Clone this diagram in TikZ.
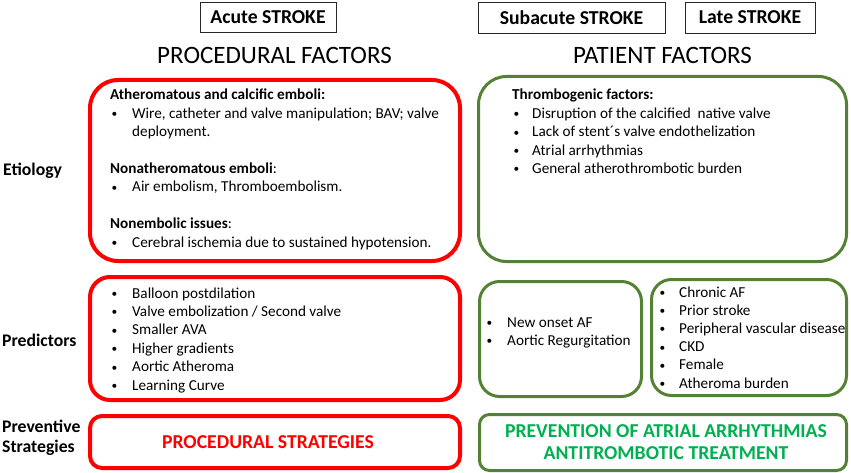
\documentclass[tikz,border=0pt]{standalone}
\usepackage{fontspec}
\usepackage{graphicx}
\setmainfont{Carlito}
\definecolor{rbox}{RGB}{255,0,0}
\definecolor{gbox}{RGB}{84,130,53}
\definecolor{gtext}{RGB}{0,176,80}
\newcommand{\bl}[1]{\makebox[#1][l]{\hspace*{1.5pt}\raisebox{0.6pt}{\scalebox{0.75}{\textbullet}}}}
\begin{document}
\begin{tikzpicture}[x=1pt,y=-1pt,
  redbox/.style={draw=rbox,line width=4pt,rounded corners=#1,inner sep=0pt},
  greenbox/.style={draw=gbox,line width=3pt,rounded corners=#1,inner sep=0pt},
  hdrbox/.style={draw=black!85,line width=0.9pt,inner sep=0pt,font=\fontsize{19.7}{22}\selectfont\bfseries},
  factor/.style={font=\fontsize{25}{28}\selectfont,inner sep=0pt},
  rowlabel/.style={font=\fontsize{17.7}{20}\selectfont\bfseries,inner sep=0pt,anchor=west,align=left},
  body/.style={font=\fontsize{15.2}{18.4}\selectfont,inner sep=0pt,anchor=base west},
  strat/.style={font=\fontsize{19.7}{22}\selectfont\bfseries,inner sep=0pt,align=center}]
\useasboundingbox (0,0) rectangle (851,473);
% header boxes
\node[hdrbox,minimum width=136,minimum height=30] (acute) at (268,17) {Acute STROKE};
\node[hdrbox,minimum width=187,minimum height=31] (subacute) at (571.5,17.5) {Subacute STROKE};
\node[hdrbox,minimum width=130,minimum height=31] (late) at (750,17.5) {Late STROKE};
\node[factor] (proc) at (274.5,55) {PROCEDURAL FACTORS};
\node[factor] (pat) at (662.5,55) {PATIENT FACTORS};
% row labels
\node[rowlabel] (etio) at (3,171) {Etiology};
\node[rowlabel] (pred) at (2,340) {Predictors};
\node[rowlabel] (prev) at (2,438) {Preventive\\Strategies};
% boxes
\node[redbox=28pt,minimum width=370,minimum height=181] (etioR) at (275,170.5) {};
\node[redbox=20pt,minimum width=370,minimum height=123] (predR) at (275,338.5) {};
\node[redbox=12pt,minimum width=370,minimum height=52] (prevR) at (275,442) {};
\node[greenbox=28pt,minimum width=368,minimum height=185] (etioG) at (662.5,169) {};
\node[greenbox=20pt,minimum width=162,minimum height=115] (predG1) at (560.5,339) {};
\node[greenbox=20pt,minimum width=195,minimum height=116] (predG2) at (749,337.5) {};
\node[greenbox=10pt,minimum width=367,minimum height=56] (prevG) at (663,442.5) {};
% texts
\node[body] (etioRtxt) at (110,100) {\begin{tabular}[t]{@{}l@{}}
\textbf{Atheromatous and calcific emboli:}\\
\bl{22pt}Wire, catheter and valve manipulation; BAV; valve\\
\hspace*{22pt}deployment.\\
\\
\textbf{Nonatheromatous emboli}:\\
\bl{22pt}Air embolism, Thromboembolism.\\
\\
\textbf{Nonembolic issues}:\\
\bl{22pt}Cerebral ischemia due to sustained hypotension.
\end{tabular}};
\node[body] (etioGtxt) at (512,100) {\begin{tabular}[t]{@{}l@{}}
\textbf{Thrombogenic factors:}\\
\bl{20pt}Disruption of the calcified\ \ native valve\\
\bl{20pt}Lack of stent´s valve endothelization\\
\bl{20pt}Atrial arrhythmias\\
\bl{20pt}General atherothrombotic burden
\end{tabular}};
\node[body] (predRtxt) at (110,298) {\begin{tabular}[t]{@{}l@{}}
\bl{22pt}Balloon postdilation\\
\bl{22pt}Valve embolization / Second valve\\
\bl{22pt}Smaller AVA\\
\bl{22pt}Higher gradients\\
\bl{22pt}Aortic Atheroma\\
\bl{22pt}Learning Curve
\end{tabular}};
\node[body] (predG1txt) at (485,327) {\begin{tabular}[t]{@{}l@{}}
\bl{22pt}New onset AF\\
\bl{22pt}Aortic Regurgitation
\end{tabular}};
\node[body,font=\fontsize{15.2}{18.2}\selectfont] (predG2txt) at (658,297) {\begin{tabular}[t]{@{}l@{}}
\bl{21pt}Chronic AF\\
\bl{21pt}Prior stroke\\
\bl{21pt}Peripheral vascular disease\\
\bl{21pt}CKD\\
\bl{21pt}Female\\
\bl{21pt}Atheroma burden
\end{tabular}};
\node[strat,text=rbox] (prevRtxt) at (268,442) {PROCEDURAL STRATEGIES};
\node[strat,text=gtext] (prevGtxt) at (666,442) {PREVENTION OF ATRIAL ARRHYTHMIAS\\ANTITROMBOTIC TREATMENT};
\end{tikzpicture}
\end{document}
